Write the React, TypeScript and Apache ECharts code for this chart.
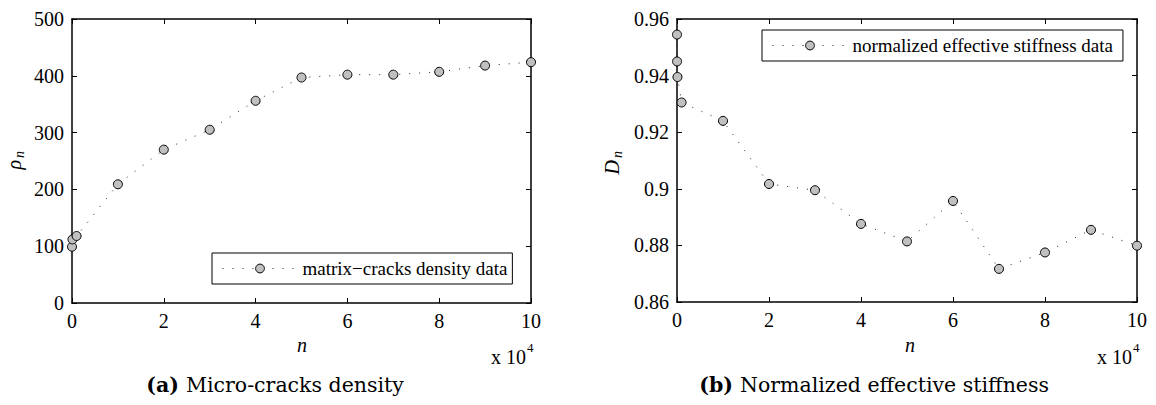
import React, { useEffect, useRef } from "react";
import * as echarts from "echarts";

// Load cycles n (in units of 10^4) and measured quantities
const cyclesA = [0, 0.01, 0.1, 1, 2, 3, 4, 5, 6, 7, 8, 9, 10];
const crackDensity = [99, 112, 118, 209, 270, 305, 356, 397, 402, 402, 407, 418, 424];

const cyclesB = [0, 0.001, 0.01, 0.1, 1, 2, 3, 4, 5, 6, 7, 8, 9, 10];
const stiffness = [
  0.9545, 0.945, 0.9395, 0.9305, 0.924, 0.9017, 0.8995, 0.8876, 0.8814, 0.8957,
  0.8717, 0.8775, 0.8855, 0.8799,
];

const seriesNameA = "matrix\u2212cracks density data";
const seriesNameB = "normalized effective stiffness data";
const captionA = ["(a)", "Micro-cracks density"];
const captionB = ["(b)", "Normalized effective stiffness"];

const xRange = { min: 0, max: 10, interval: 2 };
const yRangeA = { min: 0, max: 500, interval: 100 };
const yRangeB = { min: 0.86, max: 0.96, interval: 0.02 };

const SERIF = "Liberation Serif";
const CAPTION_FONT = "DejaVu Serif";

const axisBase = (showLabel: boolean, fmt?: (v: number) => string) => ({
  type: "value" as const,
  axisLine: { show: true, onZero: false, lineStyle: { color: "#000", width: 1.5 } },
  axisTick: { show: true, inside: true, length: 5, lineStyle: { color: "#000", width: 1 } },
  splitLine: { show: false },
  axisLabel: {
    show: showLabel,
    color: "#000",
    fontFamily: SERIF,
    fontSize: 20,
    margin: 8,
    formatter: fmt,
  },
});

const lineSeries = (name: string, xs: number[], ys: number[], axisIdx: number) => ({
  name,
  type: "line" as const,
  xAxisIndex: axisIdx,
  yAxisIndex: axisIdx,
  data: xs.map((x, i) => [x, ys[i]]),
  symbol: "circle",
  symbolSize: 9,
  clip: false,
  itemStyle: { color: "#c0c0c0", borderColor: "#000", borderWidth: 1 },
  lineStyle: { color: "#222", width: 1, type: [1, 9] },
});

const legendBase = (name: string, left: number, top: number, padRight: number) => ({
  data: [name],
  left,
  top,
  orient: "horizontal" as const,
  backgroundColor: "#fff",
  borderColor: "#000",
  borderWidth: 1,
  borderRadius: 0,
  padding: [6, padRight, 6, 10],
  itemWidth: 75,
  itemHeight: 11,
  itemStyle: { color: "#c0c0c0", borderColor: "#000", borderWidth: 1 },
  lineStyle: { color: "#222", width: 1, type: [1, 9] },
  textStyle: { fontFamily: SERIF, fontSize: 19, color: "#000" },
});

const caption = (parts: string[], x: number, y: number) => [
  {
    type: "text" as const,
    x: x - 7,
    y,
    style: { text: parts[0], font: `bold 20.5px ${CAPTION_FONT}`, fill: "#000", align: "right", verticalAlign: "middle" },
  },
  {
    type: "text" as const,
    x,
    y,
    style: { text: parts[1], font: `20.5px ${CAPTION_FONT}`, fill: "#000", align: "left", verticalAlign: "middle" },
  },
];

const exponentLabel = (right: number, y: number) => [
  {
    type: "text" as const,
    x: right - 5,
    y,
    style: { text: "x 10", fontFamily: SERIF, fontSize: 20, fill: "#000", align: "right", verticalAlign: "middle" },
  },
  {
    type: "text" as const,
    x: right - 4,
    y: y - 10,
    style: { text: "4", fontFamily: SERIF, fontSize: 13, fill: "#000", align: "left", verticalAlign: "middle" },
  },
];

const yName = (main: string, x: number, y: number) => ({
  type: "group" as const,
  x,
  y,
  rotation: Math.PI / 2,
  children: [
    {
      type: "text" as const,
      x: 0,
      y: 0,
      style: { text: main, fontFamily: SERIF, fontStyle: "italic", fontSize: 20, fill: "#000", align: "right", verticalAlign: "middle" },
    },
    {
      type: "text" as const,
      x: 2,
      y: 5,
      style: { text: "n", fontFamily: SERIF, fontStyle: "italic", fontSize: 14, fill: "#000", align: "left", verticalAlign: "middle" },
    },
  ],
});

const axisTitle = (x: number, y: number) => ({
  type: "text" as const,
  x,
  y,
  style: { text: "n", fontFamily: SERIF, fontStyle: "italic", fontSize: 20, fill: "#000", align: "center", verticalAlign: "middle" },
});

const fmtB = (v: number) => String(+v.toFixed(2));

export default function App() {
  const ref = useRef<HTMLDivElement>(null);

  useEffect(() => {
    if (!ref.current) return;
    const chart = echarts.init(ref.current, undefined, { renderer: "svg" });
    chart.setOption({
      animation: false,
      backgroundColor: "#fff",
      textStyle: { fontFamily: SERIF },
      grid: [
        { left: 72, top: 19, width: 459, height: 284 },
        { left: 677, top: 19, width: 460, height: 283 },
      ],
      xAxis: [
        { ...axisBase(true), gridIndex: 0, position: "bottom", ...xRange },
        { ...axisBase(false), gridIndex: 0, position: "top", ...xRange },
        { ...axisBase(true), gridIndex: 1, position: "bottom", ...xRange },
        { ...axisBase(false), gridIndex: 1, position: "top", ...xRange },
      ],
      yAxis: [
        { ...axisBase(true), gridIndex: 0, position: "left", ...yRangeA },
        { ...axisBase(false), gridIndex: 0, position: "right", ...yRangeA },
        { ...axisBase(true, fmtB), gridIndex: 1, position: "left", ...yRangeB },
        { ...axisBase(false), gridIndex: 1, position: "right", ...yRangeB },
      ],
      legend: [legendBase(seriesNameA, 212, 253, 5), legendBase(seriesNameB, 762, 30, 10)],
      series: [
        lineSeries(seriesNameA, cyclesA, crackDensity, 0),
        lineSeries(seriesNameB, cyclesB, stiffness, 2),
      ],
      graphic: [
        axisTitle(302, 345),
        axisTitle(910, 345),
        ...exponentLabel(531, 357),
        ...exponentLabel(1137, 357),
        yName("\u03c1", 14, 160),
        yName("D", 612, 160),
        ...caption(captionA, 186, 385),
        ...caption(captionB, 740, 385),
      ],
    });
    return () => chart.dispose();
  }, []);

  return (
    <div
      ref={ref}
      style={{ position: "fixed", left: 0, top: 0, width: 1156, height: 405, background: "#fff" }}
    />
  );
}
